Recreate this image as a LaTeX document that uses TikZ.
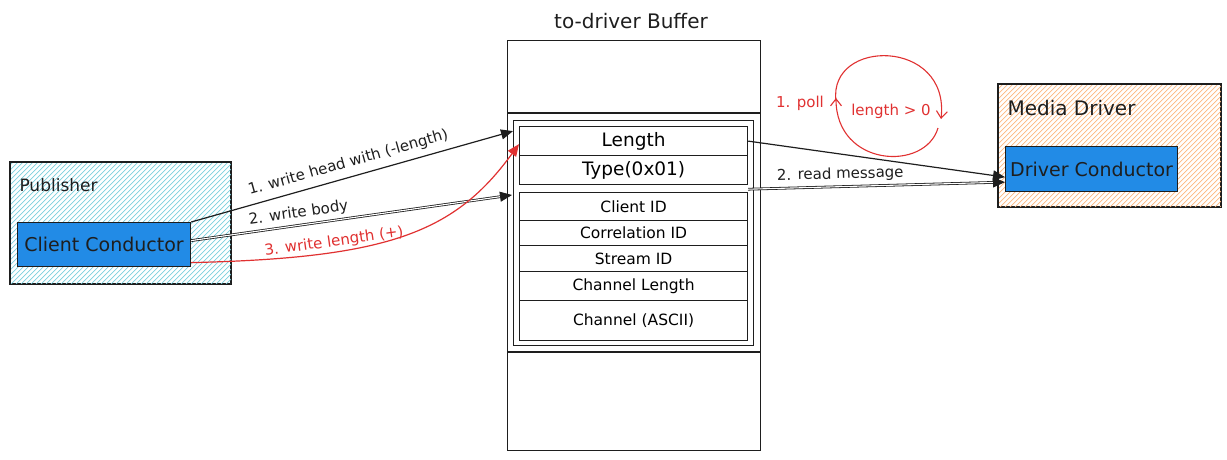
\documentclass[tikz,border=0pt]{standalone}
\usepackage{fontspec}
\setmainfont{DejaVu Sans}
\usetikzlibrary{arrows.meta}
\definecolor{hatchcyan}{HTML}{7ACFDD}
\definecolor{hatchorange}{HTML}{FDB77E}
\definecolor{condblue}{HTML}{228BE6}
\definecolor{sketchred}{HTML}{E03131}
\definecolor{ink}{HTML}{1E1E1E}
\begin{document}
\begin{tikzpicture}[x=1pt,y=-1pt,
  box/.style={draw=ink, line width=1.2pt, inner sep=0pt, anchor=north west},
  hatch/.style={line width=0.7pt},
  cond/.style={box, fill=condblue, font=\fontsize{19}{21}\selectfont, text=ink},
  row/.style={box, minimum width=228pt, font=\fontsize{15.5}{17}\selectfont},
  bigrow/.style={box, minimum width=228pt, font=\fontsize{18.5}{20}\selectfont},
  title/.style={font=\fontsize{20}{22}\selectfont, text=ink},
  lbl/.style={font=\fontsize{15}{17}\selectfont, text=ink},
  redlbl/.style={font=\fontsize{15}{17}\selectfont, text=sketchred},
  arr/.style={draw=ink, line width=1.2pt, -{Triangle[length=12pt,width=10pt]}},
  dblarr/.style={draw=ink, line width=0.8pt, double=white, double distance=1.1pt, -{Triangle[length=12pt,width=10pt]}},
  redarr/.style={draw=sketchred, line width=1.2pt, -{Triangle[length=12pt,width=10pt]}},
  loop/.style={draw=sketchred, line width=1.1pt, -{Straight Barb[length=7pt,width=11pt]}}
]
\useasboundingbox (0,0) rectangle (1227,459);

% Publisher
\node[box, minimum width=220pt, minimum height=121pt] (pub) at (10,162) {};
\begin{scope}
  \clip (pub.north west) rectangle (pub.south east);
  \foreach \i in {0,5,...,400} \draw[hatch, hatchcyan] (\i-130,290) -- (\i,160);
\end{scope}
\draw[ink, line width=1.2pt] (pub.north west) rectangle (pub.south east);
\node[title, anchor=west, font=\fontsize{17}{19}\selectfont] (publbl) at (16,185) {Publisher};
\node[cond, minimum width=173pt, minimum height=44pt] (cc) at (17,222) {Client Conductor};

% Buffer
\node[title] (buftitle) at (631,21) {to-driver Buffer};
\node[box, minimum width=253pt, minimum height=410pt] (buf) at (507,40) {};
\draw[ink, line width=1.2pt] ([yshift=-73pt]buf.north west) -- ([yshift=-73pt]buf.north east);
\draw[ink, line width=1.2pt] ([yshift=-312pt]buf.north west) -- ([yshift=-312pt]buf.north east);
\node[box, minimum width=240pt, minimum height=225pt] (inner) at (513,120) {};
\node[bigrow, minimum height=29pt] (len) at (519,126) {Length};
\node[bigrow, minimum height=29pt] (typ) at (519,155) {Type(0x01)};
\node[row, minimum height=28pt] (cid) at (519,192) {Client ID};
\node[row, minimum height=25pt] (corr) at (519,220) {Correlation ID};
\node[row, minimum height=26pt] (sid) at (519,245) {Stream ID};
\node[row, minimum height=29pt] (clen) at (519,271) {Channel Length};
\node[row, minimum height=40pt] (chan) at (519,300) {Channel (ASCII)};

% Media Driver
\node[box, minimum width=222pt, minimum height=122pt] (md) at (998,84) {};
\begin{scope}
  \clip (md.north west) rectangle (md.south east);
  \foreach \i in {990,995,...,1400} \draw[hatch, hatchorange] (\i-130,212) -- (\i,82);
\end{scope}
\draw[ink, line width=1.2pt] (md.north west) rectangle (md.south east);
\node[title, anchor=west] (mdlbl) at (1004,108) {Media Driver};
\node[cond, minimum width=172pt, minimum height=45pt] (dc) at (1005,146) {Driver Conductor};

% Publisher -> buffer
\draw[arr] (cc.north east) -- node[lbl, sloped, above=3pt, pos=0.5] {1. write head with (-length)} ([xshift=-6pt,yshift=10pt]len.west);
\draw[dblarr] ([yshift=4pt]cc.east) -- node[lbl, sloped, above=1pt, pos=0.34] {2. write body} ([xshift=-7pt,yshift=-3pt]cid.north west);
\draw[redarr] ([yshift=-18pt]cc.east) .. controls (390,258) and (455,232) .. ([yshift=-3pt]len.west);
\node[redlbl, rotate=8] (wl) at (334,242) {3. write length (+)};

% Buffer -> driver
\draw[arr] (len.east) -- ([yshift=-8pt]dc.west);
\draw[dblarr] ([yshift=-4pt]typ.south east) -- node[lbl, sloped, above=1pt, pos=0.36] {2. read message} ([yshift=-13pt]dc.west);

% polling loop
\coordinate (lpa) at (836,101);
\coordinate (lpb) at (941,119);
\coordinate (lpc) at (938,128);
\draw[loop] (lpa) .. controls (828,38) and (950,38) .. (lpb);
\draw[loop] (lpc) .. controls (925,172) and (836,167) .. ([yshift=3pt]lpa);
\node[redlbl] (poll) at (800,103) {1. poll};
\node[redlbl] (lgt) at (891,111) {length > 0};
\end{tikzpicture}
\end{document}
